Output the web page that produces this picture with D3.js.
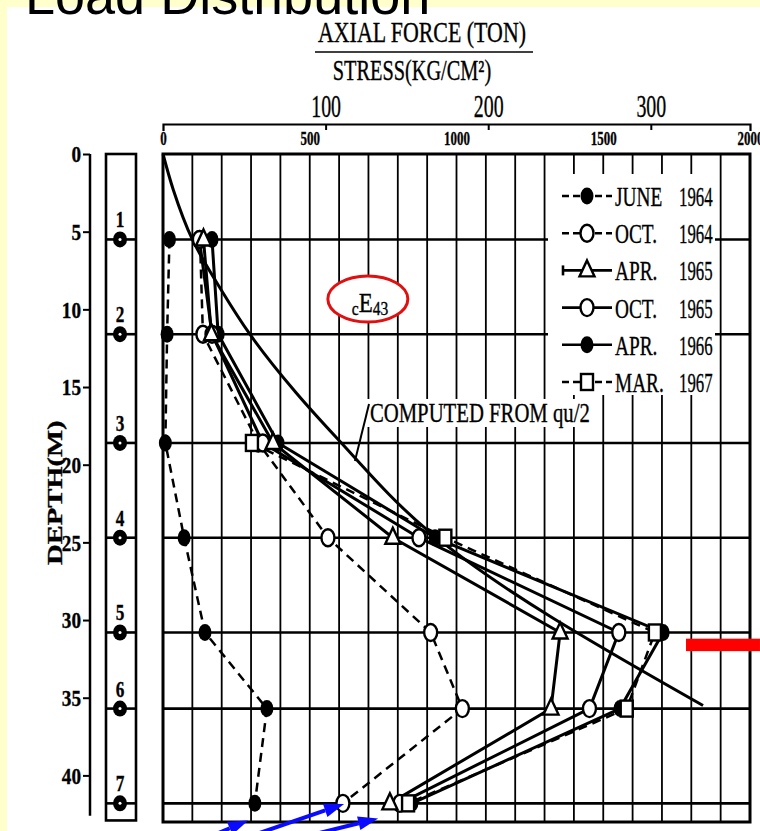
<!DOCTYPE html>
<html lang="en">
<head>
<meta charset="UTF-8">
<title>Load Distribution</title>
<script src="https://cdnjs.cloudflare.com/ajax/libs/d3/7.8.5/d3.min.js"></script>
<style>
  body { margin: 0; background: #ffffcc; }
  svg { display: block; }
  text { font-family: "Liberation Serif", "Times New Roman", serif; fill: #000; }
  text.scan { stroke: #000; stroke-width: 0.35px; }
</style>
</head>
<body>
<script>
var W = 760, H = 831;

// gauges along the pile (m)
var gaugeNo    = [1, 2, 3, 4, 5, 6, 7];
var gaugeDepth = [5.5, 11.6, 18.6, 24.7, 30.8, 35.7, 41.8];

// measured stress (kg/cm2) at each gauge
var june64 = [22, 14, 8, 72, 143, 354, 313];
var oct64  = [126, 136, 325, 562, 912, 1020, 613];
var apr65  = [138, 165, 375, 783, 1353, 1322, 773];
var oct65  = [124, 167, 340, 872, 1553, 1453, 807];
var apr66  = [167, 188, 392, 927, 1704, 1557, 848];
var mar67  = [null, null, 303, 962, 1676, 1580, 835];

var seriesMonth = ["JUNE", "OCT.", "APR.", "OCT.", "APR.", "MAR."];
var seriesYear  = ["1964", "1964", "1965", "1965", "1966", "1967"];

// computed from qu/2
var compDepth  = [0, 2.3, 5.5, 8.8, 11.6, 15.4, 18.3, 24.2, 35.5];
var compStress = [0, 35, 100, 200, 296, 455, 593, 900, 1840];

var depthTicks  = [0, 5, 10, 15, 20, 25, 30, 35, 40];
var stressTicks = [0, 500, 1000, 1500, 2000];
var tonTicks    = [100, 200, 300];

var seriesValues = [june64, oct64, apr65, oct65, apr66, mar67];
var seriesMarker = ["dot", "circle", "tri", "circle", "dot", "sq"];
var seriesDashed = [true, true, false, false, false, true];

var x = d3.scaleLinear().domain([0, 2000]).range([163, 750]);
var xTon = d3.scaleLinear().domain([0, 361]).range([163, 750]);
var y = d3.scaleLinear().domain([0, 43]).range([154, 822]);

var svg = d3.select("body").append("svg").attr("width", W).attr("height", H);

svg.append("rect").attr("width", W).attr("height", H).attr("fill", "#ffffcc");
svg.append("rect").attr("x", 7).attr("y", 7).attr("width", W - 7).attr("height", H - 7).attr("fill", "#fff");

// squeeze text to look like the narrow scanned type
function squeeze(sel, k, adj) {
  sel.each(function () {
    var len = this.getComputedTextLength();
    this.setAttribute("textLength", (len * k).toFixed(1));
    this.setAttribute("lengthAdjust", adj || "spacingAndGlyphs");
  });
  return sel;
}

function label(g, tx, ty, str, size, k, anchor, weight) {
  var t = g.append("text").attr("class", "scan").attr("x", tx).attr("y", ty)
    .attr("font-size", size).attr("text-anchor", anchor || "start")
    .attr("font-weight", weight || "normal").text(str);
  return squeeze(t, k);
}

// ---- slide title (cut off at top)
svg.append("text").attr("x", 25).attr("y", 14)
  .style("font-family", "'Liberation Sans', Arial, sans-serif")
  .attr("font-size", 54).text("Load Distribution");

// ---- axis titles
label(svg, 422, 42, "AXIAL FORCE (TON)", 30, 0.73, "middle");
svg.append("line").attr("x1", 315).attr("x2", 533).attr("y1", 52).attr("y2", 52)
  .attr("stroke", "#000").attr("stroke-width", 1.6);
label(svg, 412, 80, "STRESS(KG/CM\u00b2)", 29, 0.7, "middle");

// ---- top axis in tons
var topAx = svg.append("g").attr("transform", "translate(0,124)")
  .call(d3.axisTop(xTon).tickValues(tonTicks).tickSizeInner(-6).tickSizeOuter(-7).tickPadding(7).tickFormat(d3.format("d")));
topAx.select(".domain").attr("stroke-width", 2.2);
topAx.selectAll(".tick line").attr("stroke-width", 2);
topAx.selectAll("text").attr("class", "scan").attr("font-size", 32).style("font-family", "'Liberation Serif', serif");
squeeze(topAx.selectAll("text"), 0.62);

// stress labels
var stAx = svg.append("g").attr("transform", "translate(0,153)")
  .call(d3.axisTop(x).tickValues(stressTicks).tickSize(0).tickPadding(8).tickFormat(d3.format("d")));
stAx.select(".domain").remove();
stAx.selectAll("text").attr("class", "scan").attr("font-size", 19).attr("font-weight", "bold").style("font-family", "'Liberation Serif', serif");
squeeze(stAx.selectAll("text"), 0.68);

// ---- grid
var grid = svg.append("g");
grid.selectAll(".vg").data(x.ticks(20)).enter().append("line")
  .attr("x1", d => x(d)).attr("x2", d => x(d)).attr("y1", y(0)).attr("y2", y(43))
  .attr("stroke", "#000").attr("stroke-width", 1.8);
grid.selectAll(".hg").data(gaugeDepth).enter().append("line")
  .attr("x1", x(0)).attr("x2", x(2000)).attr("y1", d => y(d)).attr("y2", d => y(d))
  .attr("stroke", "#000").attr("stroke-width", 2.6);
grid.append("rect").attr("x", x(0)).attr("y", y(0)).attr("width", x(2000) - x(0)).attr("height", y(43) - y(0))
  .attr("fill", "none").attr("stroke", "#000").attr("stroke-width", 3);

// ---- depth axis
var dAx = svg.append("g").attr("transform", "translate(90,0)")
  .call(d3.axisLeft(y).tickValues(depthTicks).tickSize(7).tickPadding(2));
dAx.select(".domain").remove();
dAx.selectAll(".tick line").attr("stroke-width", 2);
dAx.selectAll("text").attr("class", "scan").attr("font-size", 24).attr("font-weight", "bold").style("font-family", "'Liberation Serif', serif");
squeeze(dAx.selectAll("text"), 0.8);
svg.append("line").attr("x1", 90).attr("x2", 90).attr("y1", y(0)).attr("y2", y(42.6))
  .attr("stroke", "#000").attr("stroke-width", 2.5);

var dl = svg.append("text").attr("class", "scan").attr("transform", "translate(62," + y(21.8) + ") rotate(-90)")
  .attr("text-anchor", "middle").attr("font-size", 22).attr("font-weight", "bold").text("DEPTH(M)");
squeeze(dl, 1.3);

// ---- gauge column
var gc = svg.append("g");
gc.append("rect").attr("x", 106).attr("y", y(0)).attr("width", 30).attr("height", y(42.9) - y(0))
  .attr("fill", "none").attr("stroke", "#000").attr("stroke-width", 2.6);
gaugeDepth.forEach(function (d, i) {
  gc.append("line").attr("x1", 106).attr("x2", 136).attr("y1", y(d)).attr("y2", y(d))
    .attr("stroke", "#000").attr("stroke-width", 2.6);
  gc.append("ellipse").attr("cx", 120).attr("cy", y(d)).attr("rx", 7).attr("ry", 8).attr("fill", "#000");
  gc.append("circle").attr("cx", 120).attr("cy", y(d)).attr("r", 1.5).attr("fill", "#fff");
  label(gc, 120, y(d) - 12, String(gaugeNo[i]), 24, 0.72, "middle", "bold");
});

// ---- computed curve
var compLine = d3.line().x(d => x(d[1])).y(d => y(d[0])).curve(d3.curveMonotoneY);
svg.append("path").datum(compDepth.map((d, i) => [d, compStress[i]]))
  .attr("d", compLine).attr("fill", "none").attr("stroke", "#000").attr("stroke-width", 3);

// ---- markers
function marker(g, type, cx, cy) {
  if (type === "dot") {
    g.append("ellipse").attr("cx", cx).attr("cy", cy).attr("rx", 6.5).attr("ry", 8.5).attr("fill", "#000");
  } else if (type === "circle") {
    g.append("ellipse").attr("cx", cx).attr("cy", cy).attr("rx", 6.5).attr("ry", 8.5)
      .attr("fill", "#fff").attr("stroke", "#000").attr("stroke-width", 2.4);
  } else if (type === "tri") {
    g.append("path").attr("d", "M" + cx + "," + (cy - 10) + "L" + (cx + 7.5) + "," + (cy + 6) + "L" + (cx - 7.5) + "," + (cy + 6) + "Z")
      .attr("fill", "#fff").attr("stroke", "#000").attr("stroke-width", 2.4);
  } else {
    g.append("rect").attr("x", cx - 6).attr("y", cy - 8).attr("width", 12).attr("height", 16)
      .attr("fill", "#fff").attr("stroke", "#000").attr("stroke-width", 2.4);
  }
}

var line = d3.line().defined(d => d != null).x(d => x(d)).y((d, i) => y(gaugeDepth[i]));
var plot = svg.append("g");
seriesValues.forEach(function (vals, k) {
  plot.append("path").datum(vals).attr("d", line).attr("fill", "none")
    .attr("stroke", "#000").attr("stroke-width", seriesDashed[k] ? 2.5 : 3)
    .attr("stroke-dasharray", seriesDashed[k] ? "9,6" : null);
});
// filled markers first, then circles, triangles, squares on top
["dot", "circle", "tri", "sq"].forEach(function (pass) {
  seriesValues.forEach(function (vals, k) {
    if (seriesMarker[k] !== pass) return;
    vals.forEach(function (v, i) {
      if (v != null) marker(plot, seriesMarker[k], x(v), y(gaugeDepth[i]));
    });
  });
});

// ---- legend
var lg = svg.append("g");
lg.append("rect").attr("x", 548).attr("y", 174).attr("width", 167).attr("height", 221).attr("fill", "#fff");
seriesMonth.forEach(function (m, k) {
  var ry = 196 + k * 37.2;
  lg.append("line").attr("x1", 562).attr("x2", 612).attr("y1", ry).attr("y2", ry)
    .attr("stroke", "#000").attr("stroke-width", 2.6)
    .attr("stroke-dasharray", seriesDashed[k] ? "7,4" : null);
  if (seriesMarker[k] === "tri") {
    lg.append("line").attr("x1", 563).attr("x2", 563).attr("y1", ry - 5).attr("y2", ry + 5)
      .attr("stroke", "#000").attr("stroke-width", 2.6);
  }
  marker(lg, seriesMarker[k], 587, ry);
  label(lg, 615, ry + 10, m, 28, 0.69);
  label(lg, 679, ry + 10, seriesYear[k], 28, 0.6);
});

// ---- annotations
var cbx = x(705), cby = y(17.25);
svg.append("rect").attr("x", cbx - 4).attr("y", cby - 23).attr("width", 228).attr("height", 28).attr("fill", "#fff");
label(svg, cbx, cby, "COMPUTED FROM qu/2", 28, 0.74);
svg.append("line").attr("x1", x(702)).attr("y1", y(16.1)).attr("x2", x(654)).attr("y2", y(19.76))
  .attr("stroke", "#000").attr("stroke-width", 2);

var ex = x(698), ey = y(9.33);
svg.append("ellipse").attr("cx", ex).attr("cy", ey).attr("rx", 40).attr("ry", 23)
  .attr("fill", "#fff").attr("stroke", "#e01010").attr("stroke-width", 3);
var ce = svg.append("text").attr("class", "scan").attr("x", ex - 16).attr("y", ey + 16);
ce.append("tspan").attr("font-size", 19).text("c");
ce.append("tspan").attr("font-size", 28).attr("dy", -3).text("E");
ce.append("tspan").attr("font-size", 19).attr("dy", 3).text("43");
squeeze(ce, 0.82);

// red marker bar
svg.append("rect").attr("x", x(1782)).attr("y", y(31.2)).attr("width", x(2034) - x(1782)).attr("height", y(32.0) - y(31.2))
  .attr("fill", "#ff0000");

// blue arrows (stress, depth)
var arrowTail = [[133, 44.16], [259, 44.16], [436, 44.16]];
var arrowTip  = [[290, 42.9], [617, 41.84], [733, 42.77]];
arrowTail.forEach(function (t, i) {
  var x1 = x(t[0]), y1 = y(t[1]), x2 = x(arrowTip[i][0]), y2 = y(arrowTip[i][1]);
  var a = Math.atan2(y2 - y1, x2 - x1), L = 20, hw = 7;
  var bx = x2 - L * Math.cos(a), by = y2 - L * Math.sin(a);
  svg.append("line").attr("x1", x1).attr("y1", y1).attr("x2", bx).attr("y2", by)
    .attr("stroke", "#0a0aff").attr("stroke-width", 4);
  svg.append("path").attr("d", "M" + x2 + "," + y2 +
      "L" + (bx + hw * Math.sin(a)) + "," + (by - hw * Math.cos(a)) +
      "L" + (bx - hw * Math.sin(a)) + "," + (by + hw * Math.cos(a)) + "Z")
    .attr("fill", "#0a0aff");
});
</script>
</body>
</html>
